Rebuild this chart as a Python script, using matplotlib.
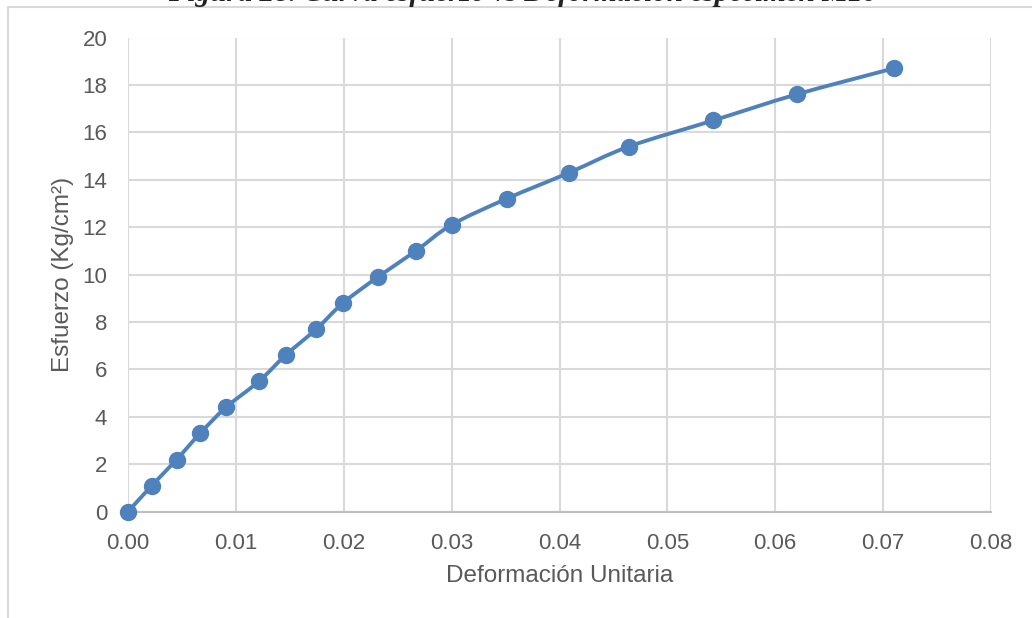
import numpy as np
import matplotlib.pyplot as plt
from matplotlib.path import Path
from matplotlib.patches import PathPatch, Rectangle

# Deformacion unitaria vs esfuerzo (Kg/cm2)
deformacion = [0.0, 0.0022, 0.00451, 0.00667, 0.00908, 0.01214, 0.01461, 0.01745,
               0.01993, 0.02317, 0.02669, 0.0300, 0.0351, 0.0409, 0.04643, 0.05425,
               0.06197, 0.0710]
esfuerzo = [0.0, 1.1, 2.2, 3.3, 4.4, 5.5, 6.6, 7.7, 8.8, 9.9, 11.0, 12.1, 13.2,
            14.3, 15.4, 16.5, 17.6, 18.7]

x_ticks = [0.00, 0.01, 0.02, 0.03, 0.04, 0.05, 0.06, 0.07, 0.08]
y_ticks = [0, 2, 4, 6, 8, 10, 12, 14, 16, 18, 20]

titulo = "Figura 28. Curva esfuerzo vs Deformación espécimen M10"

azul = "#4f81bd"
gris_txt = "#595959"
gris_grid = "#d9d9d9"

W, H = 1032, 618
fig = plt.figure(figsize=(W / 100, H / 100), dpi=100)
plt.rcParams["font.family"] = ["Liberation Sans", "DejaVu Sans"]

# chart frame and caption at the top
fig.patches.append(Rectangle((8 / W, -0.1), 1.2, 1 - 7 / H + 0.1,
                             transform=fig.transFigure, fill=False,
                             edgecolor=gris_grid, linewidth=1.5))
fig.text(523 / W, 1 - 1.0 / H, titulo, ha="center", va="baseline",
         fontsize=21, style="italic", fontweight="bold",
         family="Liberation Serif", color="#222222")

ax = fig.add_axes([128 / W, (H - 511.7) / H, 863 / W, 474.2 / H])
ax.set_xlim(0, 0.08)
ax.set_ylim(0, 20)
ax.set_xticks(x_ticks)
ax.set_yticks(y_ticks)
ax.set_xticklabels([f"{v:.2f}" for v in x_ticks])
ax.set_yticklabels([str(v) for v in y_ticks])
ax.tick_params(length=0, labelsize=16, labelcolor=gris_txt, pad=15)
ax.grid(True, color=gris_grid, linewidth=1.5)
ax.set_axisbelow(True)
for s in ["top", "right", "left"]:
    ax.spines[s].set_visible(False)
ax.spines["bottom"].set_color("#bfbfbf")
ax.spines["bottom"].set_linewidth(1.5)

# smoothed line (Catmull-Rom segments as cubic Bezier)
pts = np.column_stack([deformacion, esfuerzo])
verts = [pts[0]]
codes = [Path.MOVETO]
n = len(pts)
for i in range(n - 1):
    p0 = pts[max(i - 1, 0)]
    p1 = pts[i]
    p2 = pts[i + 1]
    p3 = pts[min(i + 2, n - 1)]
    c1 = p1 + (p2 - p0) / 6
    c2 = p2 - (p3 - p1) / 6
    verts += [c1, c2, p2]
    codes += [Path.CURVE4] * 3
ax.add_patch(PathPatch(Path(verts, codes), fill=False, edgecolor=azul,
                       linewidth=2.8, capstyle="round", joinstyle="round",
                       zorder=3))
ax.plot(deformacion, esfuerzo, linestyle="none", marker="o", markersize=11.5,
        color=azul, zorder=4, clip_on=False)

ax.set_xlabel("Deformación Unitaria", fontsize=17.5, color=gris_txt)
ax.set_ylabel("Esfuerzo (Kg/cm²)", fontsize=17.5, color=gris_txt)
ax.xaxis.set_label_coords(0.5, -0.112)
ax.yaxis.set_label_coords(-0.063, 0.5)

fig.savefig("out.png", dpi=100)
